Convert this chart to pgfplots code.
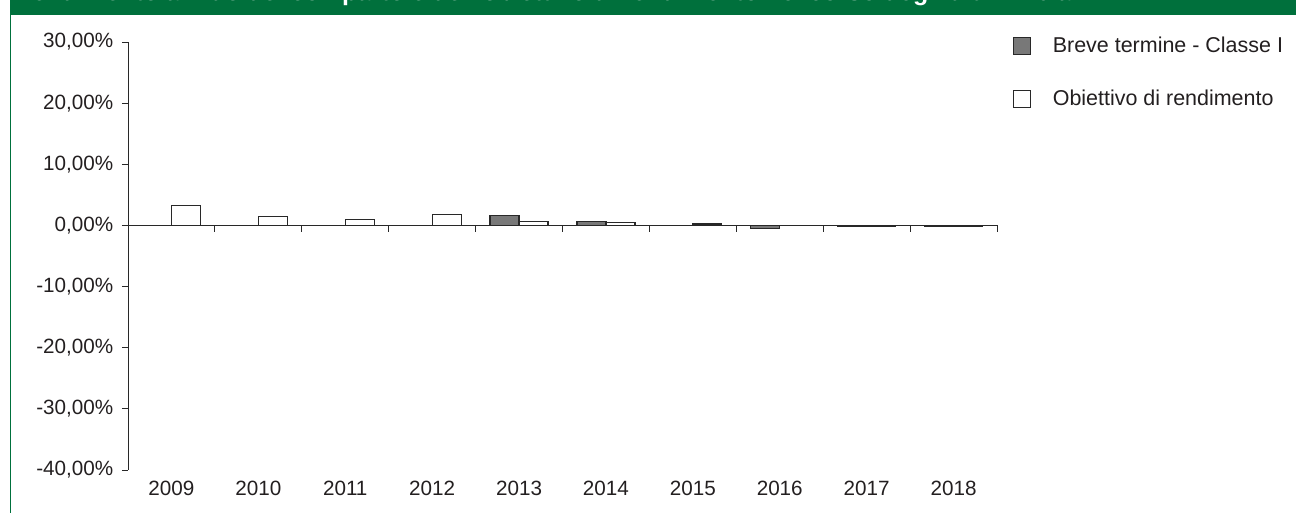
\documentclass[border=0pt]{standalone}
\usepackage{pgfplots}
\pgfplotsset{compat=1.18}
\usepackage{fontspec}
\setmainfont{Liberation Sans}
\definecolor{band}{RGB}{0,112,60}
\definecolor{txt}{RGB}{35,31,32}
\definecolor{barg}{RGB}{120,120,120}
\definecolor{edge}{RGB}{40,40,40}
\begin{document}
\begin{tikzpicture}[x=0.75pt,y=0.75pt]
\useasboundingbox (0,0) rectangle (1296,513);
% header band with clipped title
\begin{scope}
\clip (10,498) rectangle (1296,513);
\fill[band] (10,498) rectangle (1296,513);
\node[anchor=base west, inner sep=0pt, text=white, font=\bfseries\fontsize{18.75}{20}\selectfont] at (14,512) {Rendimento annuo del comparto e dell'obiettivo di rendimento nel corso degli ultimi 10 anni};
\end{scope}
\draw[band, line width=1.1pt] (10.7,0) -- (10.7,498);
\begin{axis}[
  at={(96pt,32.25pt)}, anchor=south west,
  scale only axis, width=651.75pt, height=321pt,
  xmin=-0.5, xmax=9.5, ymin=-40, ymax=30,
  axis y line*=left, axis x line*=bottom,
  x axis line style={draw=none},
  y axis line style={draw=edge, line width=0.65pt},
  xtick={0,...,9},
  xticklabels={2009,2010,2011,2012,2013,2014,2015,2016,2017,2018},
  xtick style={draw=none},
  ytick={-40,-30,...,30},
  yticklabels={{-40,00\%},{-30,00\%},{-20,00\%},{-10,00\%},{0,00\%},{10,00\%},{20,00\%},{30,00\%}},
  ytick style={draw=edge, line width=0.65pt},
  tick align=outside, major tick length=4.5pt,
  tick label style={font=\fontsize{15.5}{18}\selectfont, text=txt},
  yticklabel style={xshift=-3pt},
  xticklabel style={yshift=0pt},
  ybar=0pt, bar width=21.75pt,
  clip=false,
  legend cell align=left,
  legend style={at={(1.0184,1.015)}, anchor=north west, draw=none, fill=none,
    inner sep=0pt,
    font=\fontsize{16.1}{18}\selectfont, text=txt, row sep=24.5pt,
    nodes={inner sep=1pt}},
]
\addplot[fill=barg, draw=edge, line width=0.9pt,
  legend image code/.code={\draw[fill=barg, draw=edge, line width=0.9pt] (0pt,-6.4pt) rectangle (12.75pt,6.4pt); \path (27.75pt,0pt);}]
  coordinates {(4,1.65) (5,0.6) (6,-0.05) (7,-0.55) (8,-0.2) (9,-0.2)};
\addlegendentry{Breve termine - Classe I}
\addplot[fill=white, draw=edge, line width=0.9pt,
  legend image code/.code={\draw[fill=white, draw=edge, line width=0.9pt] (0pt,-6.4pt) rectangle (12.75pt,6.4pt); \path (27.75pt,0pt);}]
  coordinates {(0,3.2) (1,1.45) (2,0.95) (3,1.8) (4,0.65) (5,0.5) (6,0.25) (7,0.04) (8,-0.15) (9,-0.15)};
\addlegendentry{Obiettivo di rendimento}
\draw[edge, line width=0.65pt] (axis cs:-0.5,0) -- (axis cs:9.5,0);
\pgfplotsinvokeforeach{0.5,1.5,2.5,3.5,4.5,5.5,6.5,7.5,8.5,9.5}{
  \draw[edge, line width=0.65pt] (axis cs:#1,0) -- ([yshift=-5.25pt]axis cs:#1,0);
}
\end{axis}
\end{tikzpicture}
\end{document}
